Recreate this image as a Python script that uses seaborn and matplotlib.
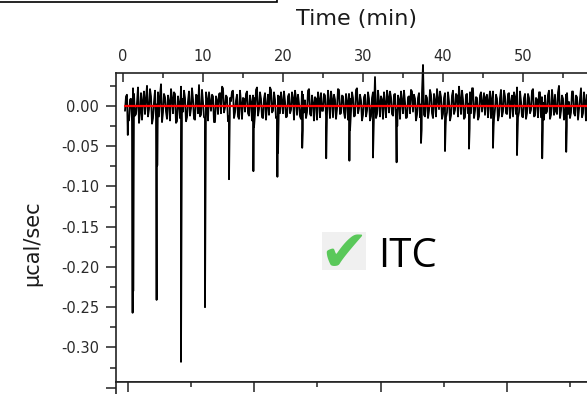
import numpy as np
import pandas as pd
import matplotlib
matplotlib.use("Agg")
import matplotlib.pyplot as plt
from matplotlib.patches import Rectangle
from matplotlib.ticker import MultipleLocator, FixedLocator, FormatStrFormatter
import seaborn as sns

# baseline noise of the raw thermogram, in 0.001 ucal/sec
# noise_milli: samples at t = 0.25 + 0.25*i ; noise_mid_milli: samples half a step later
T0 = 0.25
DT = 0.25
noise_milli = [
    -6, 14, -18, 9, 22, -12, 4, -21, 16, 7, -10, 25, -4, 12, -15, 19, 2, -13, 27, -8,
    11, -16, 6, 21, -9, 15, -19, 3, 24, -7, 10, -14, 18, -3, 8, -17, 13, 26, -11, 5,
    -15, 9, 17, -6, 12, -20, 7, 15, -9, 22, -2, 11, -13, 6, 19, -8, 14, -16, 4, 10,
    -7, 18, -12, 5, 13, -10, 23, -4, 9, -15, 16, 1, -11, 20, -6, 8, -14, 12, 17, -9,
    6, -13, 15, -5, 10, 19, -11, 3, -16, 14, 7, -8, 21, -12, 4, 11, -17, 9, 16, -6,
    13, -10, 5, 18, -14, 8, -4, 20, -9, 12, -15, 6, 15, -7, 10, -12, 22, -3, 7, -11,
    14, -6, 9, -13, 17, 36, -10, 6, 12, -16, 3, 19, -8, 11, -12, 15, -5, 8, 18, -9,
    5, -14, 12, 20, -7, 9, -11, 16, 2, 51, -13, 10, -6, 14, -15, 7, 21, -4, 11, -10,
    16, -8, 6, -12, 19, -5, 13, 24, -10, 8, -14, 15, 3, -9, 22, -6, 10, -13, 17, 4,
    -11, 14, 7, -15, 18, -4, 9, -12, 20, -7, 12, -10, 16, 5, -13, 11, 23, -8, 6, -14,
    15, -9, 10, -5, 21, -12, 8, 17, -14, 4, 13, -7, 19, -11, 6, 14, -10, 25, -6, 9,
    -13, 16, 5, -8, 18, -12, 11, -4, 22, -9, 7, 14, -15, 10, -6, 19, -11, 8, 13, -7,
]
noise_mid_milli = [
    12, -16, 8, -19, 15, -10, 23, -8, -17, 18, 9, -13, 21, -22, 5, -14, 17, 13, -20, 15,
    -7, 13, -18, 10, 17, -21, 12, -15, 9, 19, -19, 6, -12, 22, -16, 14, -9, -13, 20, -14,
    17, -18, 6, 14, -20, 12, -10, 16, 24, -8, 13, -19, 10, 18, -15, 7, -13, 19, -16, 9,
    15, -9, 13, -18, 10, 20, -12, 17, -14, 9, -17, 14, 23, -8, 17, -15, 13, -9, 6, 18,
    -14, 12, -9, 17, -17, 10, 14, -13, 18, -8, -15, 19, -10, 13, -18, 9, 17, -14, -6, 15,
    -12, 19, -15, 9, 14, -16, 21, -10, 13, -8, 15, -17, 9, 17, -13, 20, -9, 14, -18, 11,
    -13, 17, -18, 10, -9, -15, 19, -13, 8, 17, -14, 11, 18, -10, 14, -17, 13, -16, 7, 19,
    -15, 11, -9, 18, 14, -18, 10, -14, 17, -11, 13, -15, 20, -9, 15, -13, 9, 18, -16, 10,
    -14, 17, -18, 13, -10, 15, -13, 9, 19, -16, 14, -9, 17, 22, -15, 11, -17, 13, -7, 16,
    11, -14, 18, 9, -16, 14, -18, 10, -13, 19, -9, 15, -15, 13, 17, -10, -14, 18, -13, 10,
    -16, 15, -9, 19, -13, 10, -14, 17, 11, -17, -9, 14, -16, 20, -11, -7, 17, -15, 13, -17,
    14, -10, -15, 18, -9, 13, -17, 9, -14, 17, -18, 11, 14, -13, 19, -16, 10, -9, -13, 15,
]

# injection peaks (min, ucal/sec) and the second trace point right after each peak
inj_time = [1.2, 4.2, 7.25, 10.25, 13.25, 16.3, 19.3, 22.4, 25.4, 28.3,
            31.25, 34.2, 37.25, 40.25, 43.25, 46.25, 49.25, 52.4, 55.4]
inj_peak = [-0.257, -0.241, -0.318, -0.250, -0.091, -0.081, -0.088, -0.052, -0.065, -0.068,
            -0.064, -0.070, -0.046, -0.056, -0.053, -0.052, -0.061, -0.065, -0.057]
inj_tail = [-0.230, -0.074, -0.129, -0.059, -0.030, -0.026, -0.058, -0.030, -0.025, -0.030,
            -0.028, -0.025, -0.030, -0.025, -0.028, -0.025, -0.030, -0.028, -0.025]
pre_dip_time = [0.6]
pre_dip_val = [-0.036]

# fitted baseline (red)
base_time = [0.25, 60.0]
base_val = [0.0, 0.0]

# lower panel (molar ratio) tick positions
ratio_major = [0, 1, 2, 3]
ratio_minor = [0.5, 1.5, 2.5, 3.5]

W, H = 587, 394


def build_trace():
    """merge noise samples and injection points into one time-sorted trace"""
    noise = np.array(noise_milli) / 1000.0
    noise_mid = np.array(noise_mid_milli) / 1000.0
    t_noise = T0 + DT * np.arange(len(noise))
    t_mid = t_noise[:len(noise_mid)] + DT / 2
    t_tail = np.array(inj_time) + 0.08
    df = pd.DataFrame({
        "time": np.concatenate([t_noise, t_mid, pre_dip_time, inj_time, t_tail]),
        "power": np.concatenate([noise, noise_mid, pre_dip_val, inj_peak, inj_tail]),
    })
    return df.sort_values("time", kind="mergesort").reset_index(drop=True)


def main():
    sns.set_theme(style="ticks")
    plt.rcParams["font.family"] = ["DejaVu Sans"]
    plt.rcParams["axes.unicode_minus"] = False

    fig = plt.figure(figsize=(W / 100, H / 100), dpi=100)
    fig.patch.set_facecolor("white")

    # upper panel: raw heat flow; pixel frame left=116, top=73, bottom=382, right off-canvas
    ax = fig.add_axes([116 / W, 1 - 382 / H, 480 / W, 309 / H])
    ax.set_facecolor("white")
    df = build_trace()
    sns.lineplot(data=df, x="time", y="power", estimator=None, sort=False,
                 color="black", lw=1.3, ax=ax, clip_on=False)
    sns.lineplot(x=base_time, y=base_val, color="#ff0000", lw=1.6, ax=ax)

    ax.set_xlim(-0.875, 59.125)
    ax.set_ylim(-0.343, 0.041)
    ax.set_xlabel("")
    ax.set_ylabel("")

    ax.xaxis.set_major_locator(MultipleLocator(10))
    ax.xaxis.set_minor_locator(MultipleLocator(5))
    ax.yaxis.set_major_locator(MultipleLocator(0.05))
    ax.yaxis.set_minor_locator(MultipleLocator(0.025))
    ax.yaxis.set_major_formatter(FormatStrFormatter("%.2f"))

    ax.tick_params(axis="x", which="both", top=True, bottom=False, labeltop=True,
                   labelbottom=False, direction="in", color="#222222",
                   labelcolor="#2a2a2a", labelsize=10.5, pad=6.5)
    ax.tick_params(axis="x", which="major", length=6.5, width=1.1)
    ax.tick_params(axis="x", which="minor", length=3.6, width=1.1)
    ax.tick_params(axis="y", which="both", left=True, right=False, direction="out",
                   color="#222222", labelcolor="#2a2a2a", labelsize=10.5, pad=5)
    ax.tick_params(axis="y", which="major", length=7.2, width=1.1)
    ax.tick_params(axis="y", which="minor", length=4.3, width=1.1)
    for side in ax.spines:
        ax.spines[side].set_color("#222222")
        ax.spines[side].set_linewidth(1.2)

    # lower panel (integrated heats), only its top edge shows in this crop
    ax2 = fig.add_axes([116 / W, -0.5, 480 / W, 0.5 + 1 - 382 / H])
    ax2.set_facecolor("white")
    ax2.set_xlim(-0.095, 3.705)
    ax2.set_ylim(-2.0, 0.06)
    ax2.xaxis.set_major_locator(FixedLocator(ratio_major))
    ax2.xaxis.set_minor_locator(FixedLocator(ratio_minor))
    ax2.yaxis.set_major_locator(FixedLocator([0, -1, -2]))
    ax2.tick_params(axis="x", which="both", top=True, bottom=False, labeltop=False,
                    labelbottom=False, direction="in", color="#222222", width=1.1)
    ax2.tick_params(axis="x", which="major", length=7.2)
    ax2.tick_params(axis="x", which="minor", length=3.6)
    ax2.tick_params(axis="y", which="both", left=True, right=False, labelleft=False,
                    direction="out", length=7.2, width=1.1, color="#222222")
    for side in ax2.spines:
        ax2.spines[side].set_color("#222222")
        ax2.spines[side].set_linewidth(1.2)

    # axis titles placed as in the original Origin export
    fig.text(357 / W, 1 - 25 / H, "Time (min)", ha="center", va="baseline",
             fontsize=16, color="#1a1a1a")
    fig.text(32 / W, 1 - 243 / H, "µcal/sec", rotation=90, ha="center", va="center",
             fontsize=15, color="#1a1a1a")

    # check icon + ITC label
    fig.add_artist(Rectangle((322 / W, 1 - 270 / H), 44 / W, 38 / H,
                             transform=fig.transFigure, facecolor="#f0f0f0",
                             edgecolor="none"))
    fig.text(344 / W, 1 - 254 / H, "\u2714", ha="center", va="center",
             fontsize=42, color="#5ac85a")
    fig.text(378 / W, 1 - 267 / H, "ITC", ha="left", va="baseline",
             fontsize=29, color="black", family=["Open Sans", "DejaVu Sans"])

    # edge of the neighbouring panel frame at top left
    fig.add_artist(Rectangle((-0.01, 1 - 1.5 / H), 277 / W + 0.01, 0.2,
                             transform=fig.transFigure, fill=False,
                             edgecolor="black", lw=1.2, clip_on=False))

    fig.savefig("out.png", dpi=100, facecolor="white")
    plt.close(fig)


if __name__ == "__main__":
    main()
